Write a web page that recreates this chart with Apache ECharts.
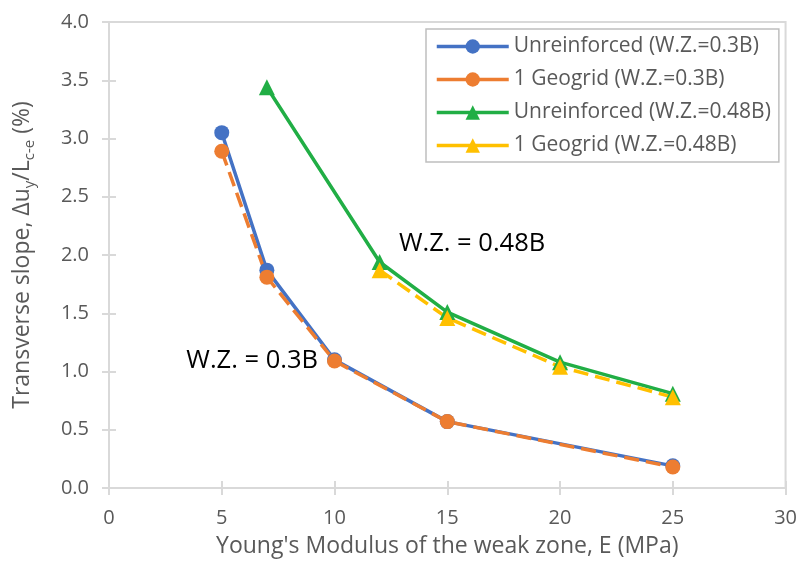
<!DOCTYPE html>
<html>
<head>
<meta charset="utf-8">
<script src="https://cdn.jsdelivr.net/npm/echarts@6/dist/echarts.min.js"></script>
<style>
  html, body { margin: 0; padding: 0; background: #fff; }
  #chart { width: 800px; height: 563px; }
</style>
</head>
<body>
<div id="chart"></div>
<script>
// 数据
const eWz03 = [5, 7, 10, 15, 25];
const unreinforced03 = [3.05, 1.87, 1.10, 0.57, 0.19];
const geogrid03 = [2.89, 1.81, 1.09, 0.57, 0.18];

const eUnreinf048 = [7, 12, 15, 20, 25];
const unreinforced048 = [3.44, 1.94, 1.51, 1.08, 0.81];
const eGeogrid048 = [12, 15, 20, 25];
const geogrid048 = [1.87, 1.46, 1.04, 0.78];

const seriesNames = [
    'Unreinforced (W.Z.=0.3B)',
    '1 Geogrid (W.Z.=0.3B)',
    'Unreinforced (W.Z.=0.48B)',
    '1 Geogrid (W.Z.=0.48B)'
];

// 注释文字位置（数据坐标）
const noteWz03 = {text: 'W.Z. = 0.3B', at: [6.35, 1.09]};
const noteWz048 = {text: 'W.Z. = 0.48B', at: [16.1, 2.10]};

function pairs(xs, ys) {
    return xs.map((x, i) => [x, ys[i]]);
}

const axisGray = '#d9d9d9';
const labelGray = '#595959';

function noteMark(note) {
    return {
        symbol: 'circle',
        symbolSize: 0,
        silent: true,
        itemStyle: {color: 'rgba(0,0,0,0)'},
        data: [{
            coord: note.at,
            label: {
                show: true,
                position: 'inside',
                formatter: note.text,
                color: '#000',
                fontSize: 25.5,
                fontFamily: 'Open Sans'
            }
        }]
    };
}

const option = {
    backgroundColor: '#fff',
    animation: false,
    textStyle: {fontFamily: 'Open Sans'},
    grid: {
        left: 109,
        right: 14,
        top: 22,
        bottom: 73,
        show: true,
        borderColor: axisGray,
        borderWidth: 2
    },
    legend: {
        orient: 'vertical',
        left: 426,
        top: 29,
        padding: [6, 8, 5, 9],
        itemGap: 10,
        itemWidth: 72,
        itemHeight: 18,
        backgroundColor: '#fff',
        borderColor: '#bfbfbf',
        borderWidth: 1.5,
        lineStyle: {type: 'solid', width: 3.5},
        textStyle: {fontSize: 21, color: labelGray, lineHeight: 23},
        data: seriesNames
    },
    xAxis: [{
        type: 'value',
        min: 0,
        max: 30,
        interval: 5,
        name: "Young's Modulus of the weak zone, E (MPa)",
        nameLocation: 'middle',
        nameGap: 47,
        nameTextStyle: {fontSize: 23, color: labelGray},
        axisLine: {show: true, lineStyle: {color: axisGray, width: 2}},
        axisTick: {show: true, length: 7, lineStyle: {color: axisGray, width: 2}},
        axisLabel: {fontSize: 20, color: labelGray, margin: 20},
        splitLine: {show: false}
    }, {
        // 内侧刻度（让刻度线穿过坐标轴）
        type: 'value',
        min: 0,
        max: 30,
        interval: 5,
        position: 'bottom',
        axisLine: {show: false},
        axisTick: {show: true, inside: true, length: 7, lineStyle: {color: axisGray, width: 2}},
        axisLabel: {show: false},
        splitLine: {show: false}
    }],
    yAxis: [{
        type: 'value',
        min: 0,
        max: 4,
        interval: 0.5,
        name: '{a|Transverse slope, Δu}{s|y}{a|/L}{s|c-e}{a| (%)}',
        nameLocation: 'middle',
        nameGap: 72,
        nameRotate: 90,
        nameTextStyle: {
            color: labelGray,
            rich: {
                a: {fontSize: 23, color: labelGray, lineHeight: 30, verticalAlign: 'middle'},
                s: {fontSize: 15, color: labelGray, lineHeight: 30, verticalAlign: 'bottom', padding: [12, 0, 0, 0]}
            }
        },
        axisLine: {show: true, lineStyle: {color: axisGray, width: 2}},
        axisTick: {show: true, length: 7, lineStyle: {color: axisGray, width: 2}},
        axisLabel: {fontSize: 20, color: labelGray, margin: 20, formatter: v => v.toFixed(1)},
        splitLine: {show: false}
    }, {
        type: 'value',
        min: 0,
        max: 4,
        interval: 0.5,
        position: 'left',
        axisLine: {show: false},
        axisTick: {show: true, inside: true, length: 7, lineStyle: {color: axisGray, width: 2}},
        axisLabel: {show: false},
        splitLine: {show: false}
    }],
    series: [
        {
            name: seriesNames[0],
            type: 'line',
            data: pairs(eWz03, unreinforced03),
            color: '#4472C4',
            symbol: 'circle',
            symbolSize: 15,
            lineStyle: {width: 3.5},
            markPoint: noteMark(noteWz03)
        },
        {
            name: seriesNames[1],
            type: 'line',
            data: pairs(eWz03, geogrid03),
            color: '#ED7D31',
            symbol: 'circle',
            symbolSize: 15,
            lineStyle: {width: 3.5, type: [15, 7]}
        },
        {
            name: seriesNames[2],
            type: 'line',
            data: pairs(eUnreinf048, unreinforced048),
            color: '#21AE45',
            symbol: 'triangle',
            symbolSize: 16,
            lineStyle: {width: 3.5},
            markPoint: noteMark(noteWz048)
        },
        {
            name: seriesNames[3],
            type: 'line',
            data: pairs(eGeogrid048, geogrid048),
            color: '#FFC000',
            symbol: 'triangle',
            symbolSize: 16,
            lineStyle: {width: 3.5, type: [15, 7]}
        }
    ]
};

const chart = echarts.init(document.getElementById('chart'));
chart.setOption(option);
</script>
</body>
</html>
